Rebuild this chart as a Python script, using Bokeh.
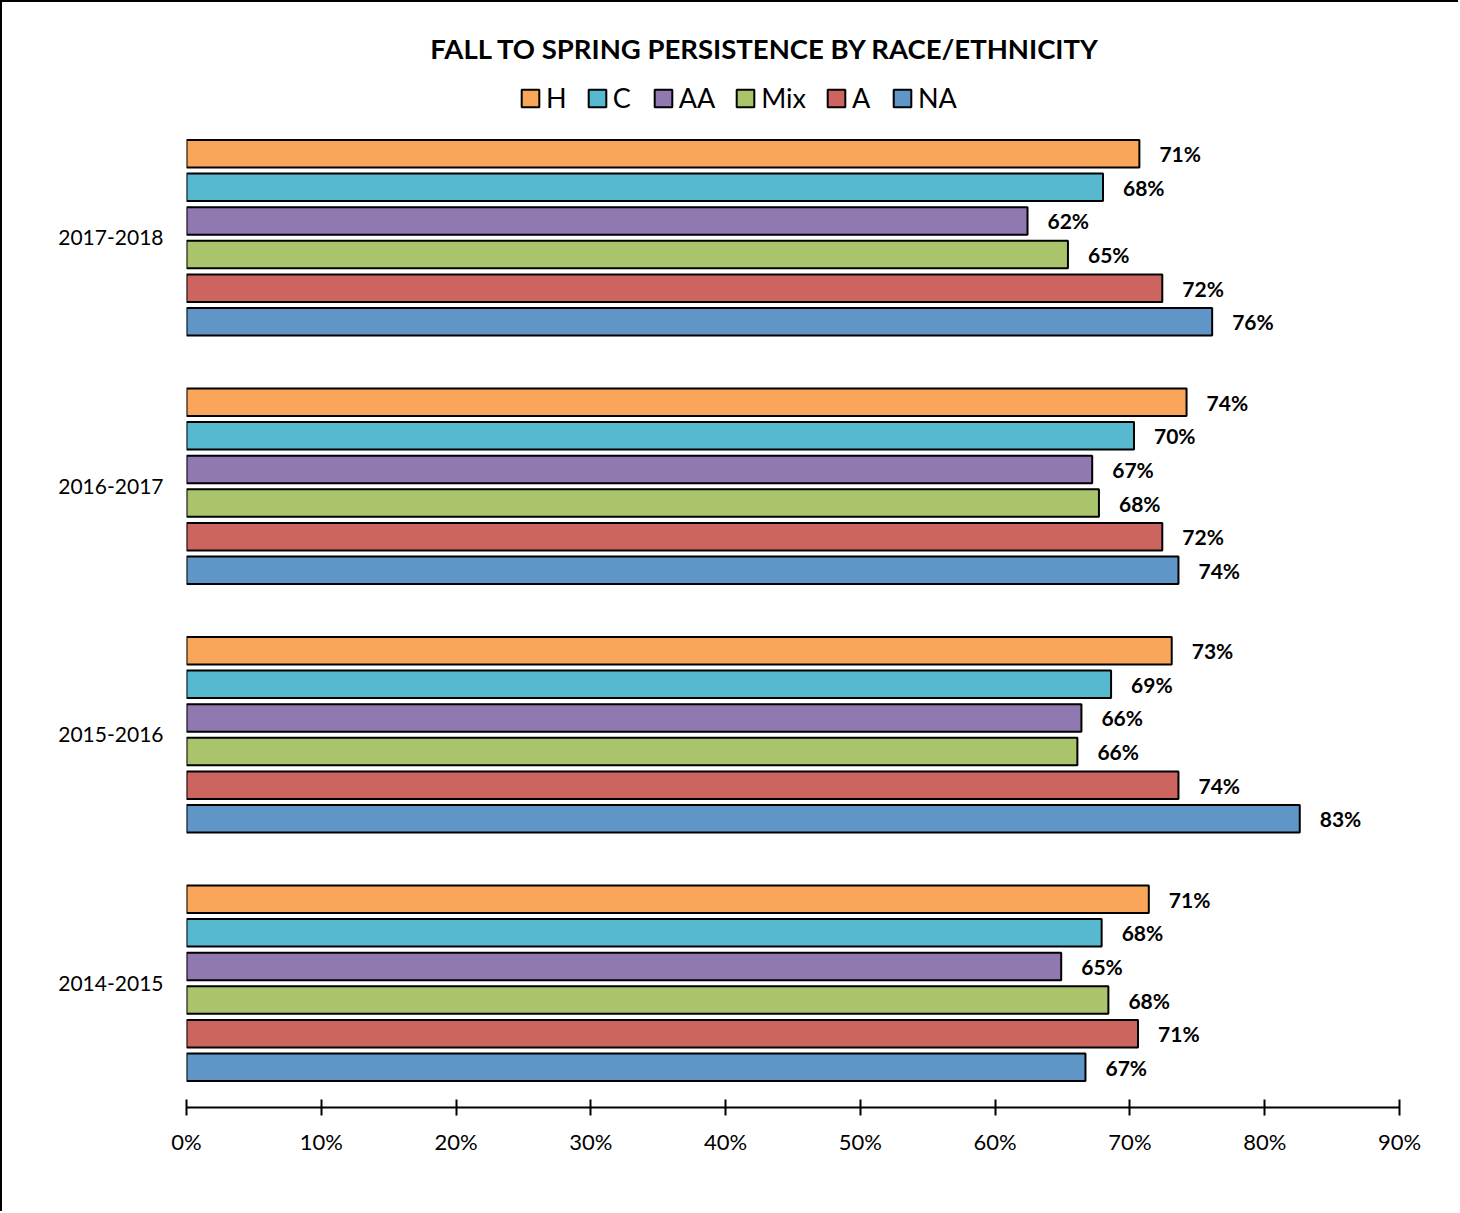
from bokeh.plotting import figure
from bokeh.models import (ColumnDataSource, Range1d, FixedTicker,
                          NumeralTickFormatter, Legend, LegendItem, Label)
from bokeh.transform import dodge
from bokeh.core.properties import value
from bokeh.embed import file_html
from bokeh.resources import INLINE

# Academic years (bottom to top) and race/ethnicity groups (top to bottom in each block)
years = ["2014-2015", "2015-2016", "2016-2017", "2017-2018"]
groups = ["H", "C", "AA", "Mix", "A", "NA"]

# Fall-to-spring persistence rates per group, one value per year
h_rate = [0.714, 0.731, 0.742, 0.707]
c_rate = [0.679, 0.686, 0.703, 0.680]
aa_rate = [0.649, 0.664, 0.672, 0.624]
mix_rate = [0.684, 0.661, 0.677, 0.654]
a_rate = [0.706, 0.736, 0.724, 0.724]
na_rate = [0.667, 0.826, 0.736, 0.761]

colors = ["#F9A65A", "#57B9D0", "#9079B0", "#AAC46C", "#CC6560", "#6095C8"]
x_ticks = [0.0, 0.1, 0.2, 0.3, 0.4, 0.5, 0.6, 0.7, 0.8, 0.9]
title_text = "FALL TO SPRING PERSISTENCE BY RACE/ETHNICITY"

rates = [h_rate, c_rate, aa_rate, mix_rate, a_rate, na_rate]
ypos = [i + 0.5 for i in range(len(years))]
data = {"year": years, "ypos": ypos}
for g, vals in zip(groups, rates):
    data[g] = vals
    data[g + "_lbl"] = [f"{round(v * 100)}%" for v in vals]
src = ColumnDataSource(data)

FONT = "Lato"

# the frame reaches up to the top so the title and legend sit inside it;
# the bars occupy the lower 994 px (one unit per year block)
bars_px = 994
frame_px = 1097
y_top = len(years) * frame_px / bars_px

p = figure(width=1458, height=1211,
           y_range=Range1d(0, y_top), x_range=Range1d(0, 0.9),
           output_backend="svg", toolbar_location=None,
           min_border_left=184, min_border_right=61,
           min_border_top=8, min_border_bottom=106)
p.styles = {"border-left": "2px solid black", "border-top": "2px solid black"}

step = 0.1353
bar_h = 0.111
items = []
for i, (g, col) in enumerate(zip(groups, colors)):
    off = (2.5 - i) * step
    r = p.hbar(y=dodge("ypos", off), left=0, right=g,
               height=bar_h, source=src, fill_color=col,
               line_color="black", line_width=2)
    p.text(x=g, y=dodge("ypos", off), text=g + "_lbl",
           x_offset=20, text_baseline="middle", text_align="left",
           text_font=value(FONT), text_font_style="bold",
           text_font_size="21px", text_color="black", source=src)
    items.append(LegendItem(label=g, renderers=[r]))

# chart title (screen units, measured from the frame's bottom-left corner)
title = Label(x=579, y=1059, x_units="screen", y_units="screen",
              text=title_text, text_align="center", text_baseline="middle",
              text_font=FONT, text_font_style="bold", text_font_size="27.5px",
              text_color="black")
p.add_layout(title)

legend = Legend(items=items, orientation="horizontal", location=(333, 993),
                glyph_width=22, glyph_height=22, label_standoff=5,
                spacing=19, padding=0, margin=0,
                border_line_color=None, background_fill_alpha=0,
                label_text_font=FONT, label_text_font_size="27px",
                label_text_color="black")
p.add_layout(legend, "center")

p.xaxis.ticker = FixedTicker(ticks=x_ticks)
p.xaxis.formatter = NumeralTickFormatter(format="0%")
p.xaxis.major_tick_in = 8
p.xaxis.major_tick_out = 8
p.xaxis.minor_tick_line_color = None
p.xaxis.axis_line_color = "black"
p.xaxis.axis_line_width = 2
p.xaxis.major_tick_line_color = "black"
p.xaxis.major_tick_line_width = 2
p.xaxis.major_label_text_font = FONT
p.xaxis.major_label_text_font_size = "22px"
p.xaxis.major_label_text_color = "black"
p.xaxis.major_label_standoff = 12

p.yaxis.ticker = FixedTicker(ticks=ypos)
p.yaxis.major_label_overrides = {y: yr for y, yr in zip(ypos, years)}
p.yaxis.axis_line_color = None
p.yaxis.major_tick_line_color = None
p.yaxis.minor_tick_line_color = None
p.yaxis.major_label_standoff = 17
p.yaxis.major_label_text_font = FONT
p.yaxis.major_label_text_font_size = "21px"
p.yaxis.major_label_text_color = "black"

p.xgrid.visible = False
p.ygrid.visible = False
p.outline_line_color = None

open("out.html", "w").write(file_html(p, INLINE))
